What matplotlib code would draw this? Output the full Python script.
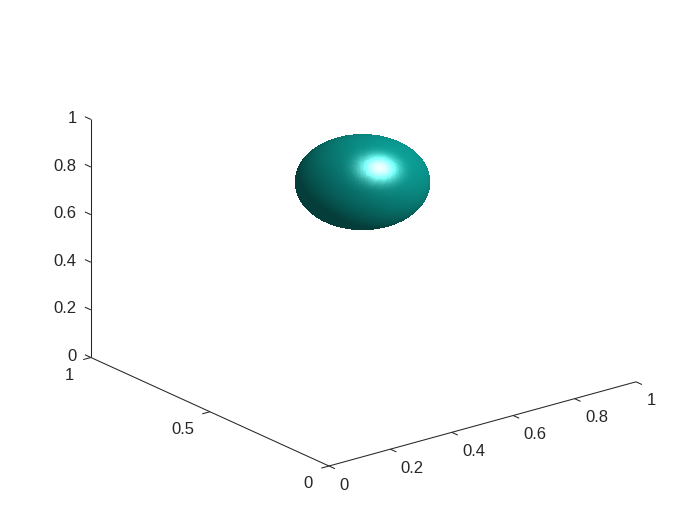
import numpy as np
import matplotlib
matplotlib.use('Agg')
import matplotlib.pyplot as plt
from mpl_toolkits.mplot3d import proj3d

# Values
x_ticks = [0, 0.2, 0.4, 0.6, 0.8, 1]
x_labels = ['0', '0.2', '0.4', '0.6', '0.8', '1']
y_ticks = [0, 0.5, 1]
y_labels = ['0', '0.5', '1']
z_ticks = [0, 0.2, 0.4, 0.6, 0.8, 1]
z_labels = ['0', '0.2', '0.4', '0.6', '0.8', '1']
center = [0.497, 0.5, 0.789]
radius = 0.173

# Lighting of the ball
base_color = np.array([0.05, 0.70, 0.66])
light_dir = np.array([0.33, -0.53, 0.78])
highlight_dir = np.array([-0.211, -0.663, 0.716])
ambient = 0.34
diffuse = 0.54
wrap = 0.3
specular = 0.95
shininess = 26

text_color = '#262626'
plt.rcParams['font.family'] = ['Liberation Sans', 'DejaVu Sans']

fig = plt.figure(figsize=(7, 5.25), dpi=100)
ax = fig.add_axes([0, 0, 0.75, 1], projection='3d')
ax.set_proj_type('ortho')
ax.view_init(elev=20.7, azim=-127.8)
ax.set_box_aspect((1, 1, 0.655))
ax.set_xlim(0, 1)
ax.set_ylim(0, 1)
ax.set_zlim(0, 1)
ax.set_axis_off()


def to_px(x, y, z):
    u, v, _ = proj3d.proj_transform(x, y, z, ax.get_proj())
    return ax.transData.transform((u, v))


# Fit the axes so the origin and the x axis land where they are in the picture
ax.apply_aspect()
side = 525.0
p0 = to_px(0, 0, 0)
p1 = to_px(1, 0, 0)
scale = 307.0 / (p1[0] - p0[0])
mid = np.array([side / 2, side / 2])
new_side = side * scale
new_mid = np.array([329.0, 525.0 - 466.0]) - (p0 - mid) * scale
ax.set_position([(new_mid[0] - new_side / 2) / 700, (new_mid[1] - new_side / 2) / 525,
                 new_side / 700, new_side / 525])
ax.apply_aspect()

# Ball
u = np.linspace(0, 2 * np.pi, 241)
v = np.linspace(0, np.pi, 161)
nx = np.outer(np.cos(u), np.sin(v))
ny = np.outer(np.sin(u), np.sin(v))
nz = np.outer(np.ones_like(u), np.cos(v))
lit = nx * light_dir[0] + ny * light_dir[1] + nz * light_dir[2]
lit = np.clip((lit + wrap) / (1 + wrap), 0, None)
spot = np.clip(nx * highlight_dir[0] + ny * highlight_dir[1] + nz * highlight_dir[2], 0, None) ** shininess
colors = (ambient + diffuse * lit)[..., None] * base_color + (specular * spot)[..., None]
colors = np.clip(colors, 0, 1)
ax.plot_surface(center[0] + radius * nx, center[1] + radius * ny, center[2] + radius * nz,
                facecolors=colors, rstride=1, cstride=1, shade=False, linewidth=0, antialiased=False)

# Axis lines and ticks
line = dict(color=text_color, lw=0.75, solid_capstyle='butt')
tick_len = 0.025
ax.plot([0, 1], [0, 0], [0, 0], **line)
ax.plot([0, 0], [0, 1], [0, 0], **line)
ax.plot([0, 0], [1, 1], [0, 1], **line)
for t in x_ticks:
    ax.plot([t, t], [0, -tick_len], [0, 0], **line)
for t in y_ticks:
    ax.plot([0, -tick_len], [t, t], [0, 0], **line)
for t in z_ticks:
    ax.plot([0, 0], [1, 1 + tick_len], [t, t], **line)


def label(x, y, z, s, dx, dy, ha='center'):
    px = to_px(x, y, z)
    fig.text((px[0] + dx) / 700, (px[1] + dy) / 525, s, ha=ha, va='center', fontsize=12, color=text_color)


for t, s in zip(x_ticks, x_labels):
    label(t, 0, 0, s, 15 if s in ('0', '1') else 22, -19)
for t, s in zip(y_ticks, y_labels):
    label(0, t, 0, s, -21 if s in ('0', '1') else -27, -18)
for t, s in zip(z_ticks, z_labels):
    label(0, 1, t, s, -14, 1, ha='right')

fig.savefig('out.png', dpi=100)
